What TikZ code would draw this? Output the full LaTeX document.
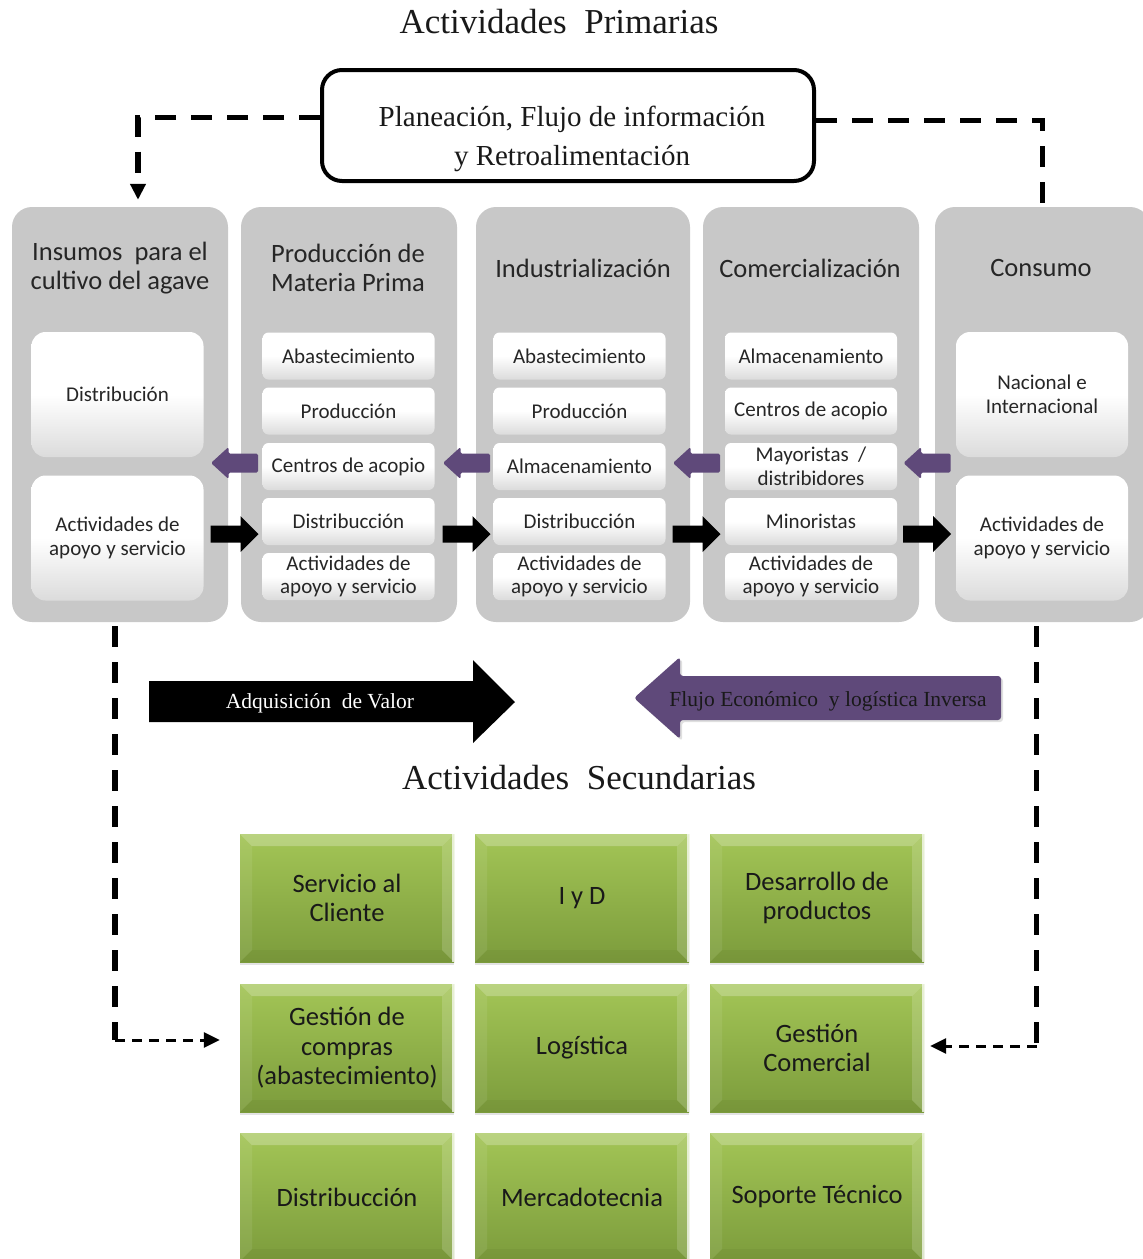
\documentclass[tikz,border=0pt]{standalone}
\usepackage{fontspec}
\setmainfont{Liberation Serif}
\newfontfamily\calib{Carlito}
\usetikzlibrary{arrows.meta,calc,shadows}
\definecolor{colgray}{HTML}{C8C8C8}
\definecolor{plum}{HTML}{5F497A}
\definecolor{txt}{HTML}{262626}
\definecolor{greentop}{HTML}{A3C556}
\definecolor{greenbot}{HTML}{7C9C3C}
\newcommand\setfs[2]{\fontsize{#1}{#2}\selectfont}

\tikzset{
  title/.style={font=\setfs{35}{40}, text=black!90},
  plan/.style={draw=black, line width=4pt, rounded corners=20pt, fill=white,
    minimum width=492pt, minimum height=111pt},
  plantext/.style={align=center, font=\setfs{29}{39}, text=black!90},
  column/.style={fill=colgray, rounded corners=20pt, minimum height=415pt, inner sep=0pt},
  colhead/.style={font=\calib\setfs{26.5}{29}, text=txt, align=center},
  item/.style={rounded corners=6pt, top color=white, bottom color=black!14, middle color=white,
    minimum width=172pt, minimum height=47pt, inner sep=0pt, align=center,
    font=\calib\setfs{21}{23.5}, text=txt},
  bigitem/.style={item, rounded corners=14pt, minimum height=125pt},
  bigtext/.style={font=\setfs{21.5}{24}},
  greenbox/.style={minimum width=214pt, minimum height=128pt, inner sep=0pt, align=center,
    font=\calib\setfs{26.5}{29.5}, text=black!90,
    top color=greentop, bottom color=greenbot,
    drop shadow={shadow xshift=0pt, shadow yshift=-3pt, opacity=0.22},
    path picture={
      \fill[white, opacity=0.25]
        (path picture bounding box.north west) -- (path picture bounding box.north east)
        -- ([xshift=-12pt,yshift=-12pt]path picture bounding box.north east)
        -- ([xshift=12pt,yshift=-12pt]path picture bounding box.north west) -- cycle;
      \fill[white, opacity=0.08]
        (path picture bounding box.north west)
        -- ([xshift=12pt,yshift=-12pt]path picture bounding box.north west)
        -- ([xshift=12pt,yshift=12pt]path picture bounding box.south west)
        -- (path picture bounding box.south west) -- cycle;
      \fill[white, opacity=0.16]
        (path picture bounding box.north east)
        -- ([xshift=-12pt,yshift=-12pt]path picture bounding box.north east)
        -- ([xshift=-12pt,yshift=12pt]path picture bounding box.south east)
        -- (path picture bounding box.south east) -- cycle;
      \fill[black, opacity=0.04]
        (path picture bounding box.south west) -- (path picture bounding box.south east)
        -- ([xshift=-12pt,yshift=12pt]path picture bounding box.south east)
        -- ([xshift=12pt,yshift=12pt]path picture bounding box.south west) -- cycle;
      \draw[white, opacity=0.7, line width=2pt]
        ([xshift=-1pt]path picture bounding box.north east) -- ([xshift=-1pt]path picture bounding box.south east);
    }},
  thickdash/.style={line width=5.5pt, dash pattern=on 21pt off 15pt},
  thindash/.style={line width=3pt, dash pattern=on 10pt off 7pt},
  tip/.style={-{Triangle[length=16pt,width=15pt]}},
  fwd/.pic={\fill[black] (-24,-8.5) -- (6,-8.5) -- (6,-18) -- (24,0) -- (6,18) -- (6,8.5) -- (-24,8.5) -- cycle;},
  back/.pic={\fill[plum, rounded corners=1.5pt] (23.5,-9.5) -- (-6,-9.5) -- (-6,-16) -- (-23.5,0)
     -- (-6,16) -- (-6,9.5) -- (23.5,9.5) -- cycle;}
}

\begin{document}
\begin{tikzpicture}[x=1pt, y=-1pt]
\useasboundingbox (0,0) rectangle (1143,1259);
\fill[white] (0,0) rectangle (1143,1259);

% headings
\node[title] (tprim) at (559,22) {Actividades~ Primarias};
\node[title] (tsec) at (579,778) {Actividades~ Secundarias};

% planning box
\node[plan] (plan) at (568,125.5) {};
\node[plantext] (plantxt) at (572,139) {Planeación, Flujo de información\\y Retroalimentación};

% primary activity columns
\node[column, minimum width=216pt] (c1) at (120,414.5) {};
\node[column, minimum width=216pt] (c2) at (349,414.5) {};
\node[column, minimum width=214pt] (c3) at (583,414.5) {};
\node[column, minimum width=216pt] (c4) at (811,414.5) {};
\node[column, minimum width=215pt] (c5) at (1042.5,414.5) {};

\node[colhead] (h1) at (120,268) {Insumos~ para el\\cultivo del agave};
\node[colhead] (h2) at (348,268) {Producción de\\Materia Prima};
\node[colhead] (h3) at (583,268) {Industrialización};
\node[colhead] (h4) at (810,268) {Comercialización};
\node[colhead] (h5) at (1041,268) {Consumo};

% column 1
\node[bigitem] (c1a) at (117.5,394.5) {Distribución};
\node[bigitem] (c1b) at (117.5,538) {Actividades de\\apoyo y servicio};

% column 2
\node[item] (c2a) at (348.5,356) {Abastecimiento};
\node[item] (c2b) at (348.5,411) {Producción};
\node[item] (c2c) at (348.5,466.5) {Centros de acopio};
\node[item] (c2d) at (348.5,521.5) {Distribucción};
\node[item] (c2e) at (348.5,576.5) {Actividades de\\apoyo y servicio};

% column 3
\node[item] (c3a) at (579.5,356) {Abastecimiento};
\node[item] (c3b) at (579.5,411) {Producción};
\node[item] (c3c) at (579.5,466.5) {Almacenamiento};
\node[item] (c3d) at (579.5,521.5) {Distribucción};
\node[item] (c3e) at (579.5,576.5) {Actividades de\\apoyo y servicio};

% column 4
\node[item] (c4a) at (811,356) {Almacenamiento};
\node[item] (c4b) at (811,411) {Centros de acopio};
\node[item] (c4c) at (811,466.5) {Mayoristas~ /\\distribidores};
\node[item] (c4d) at (811,521.5) {Minoristas};
\node[item] (c4e) at (811,576.5) {Actividades de\\apoyo y servicio};

% column 5
\node[bigitem] (c5a) at (1042,394.5) {Nacional e\\Internacional};
\node[bigitem] (c5b) at (1042,538) {Actividades de\\apoyo y servicio};

% flows between columns
\foreach \a/\b in {c1/c2, c2/c3, c3/c4, c4/c5}{
  \pic at ($(\a.east)!0.5!(\b.west) + (0,119.5)$) {fwd};
  \pic at ($(\a.east)!0.5!(\b.west) + (0,48.5)$) {back};
}

% planning feedback loop
\draw[thickdash, tip] ([yshift=8pt]plan.west) -| ([xshift=18pt,yshift=7pt]c1.north);
\draw[thickdash] ([yshift=5pt]plan.east) -| (c5.north);

% value and reverse-flow arrows
\fill[black] (149,681) -- (473,681) -- (473,660) -- (515,702) -- (473,743) -- (473,722) -- (149,722) -- cycle;
\node[bigtext, text=white] (adq) at (320,703) {Adquisición~ de Valor};
\fill[plum, rounded corners=3pt, drop shadow={shadow xshift=2pt, shadow yshift=-2pt, opacity=0.25}]
  (1001,676) -- (680,676) -- (680,657) -- (634,698) -- (680,739) -- (680,720) -- (1001,720) -- cycle;
\node[bigtext, text=black!90] (flujo) at (828,701) {Flujo Económico~ y logística Inversa};

% secondary activities
\node[greenbox] (g1) at (347,898) {Servicio al\\Cliente};
\node[greenbox] (g2) at (582,898) {I y D};
\node[greenbox] (g3) at (817,898) {Desarrollo de\\productos};
\node[greenbox] (g4) at (347,1048) {Gestión de\\compras\\(abastecimiento)};
\node[greenbox] (g5) at (582,1048) {Logística};
\node[greenbox] (g6) at (817,1048) {Gestión\\Comercial};
\node[greenbox] (g7) at (347,1197) {Distribucción};
\node[greenbox] (g8) at (582,1197) {Mercadotecnia};
\node[greenbox] (g9) at (817,1197) {Soporte Técnico};

% links to secondary activities
\coordinate (bl) at (115,1040);
\draw[thickdash] ([xshift=-5pt,yshift=-4pt]c1.south) -- (bl);
\draw[thindash, tip, shorten >=20pt] (bl) -- (g4.west |- bl);
\coordinate (br) at (1036.5,1046);
\draw[thickdash] ([xshift=-6pt,yshift=-4pt]c5.south) -- (br);
\draw[thindash, tip, shorten >=6pt] (br) -- (g6.east |- br);
\end{tikzpicture}
\end{document}
